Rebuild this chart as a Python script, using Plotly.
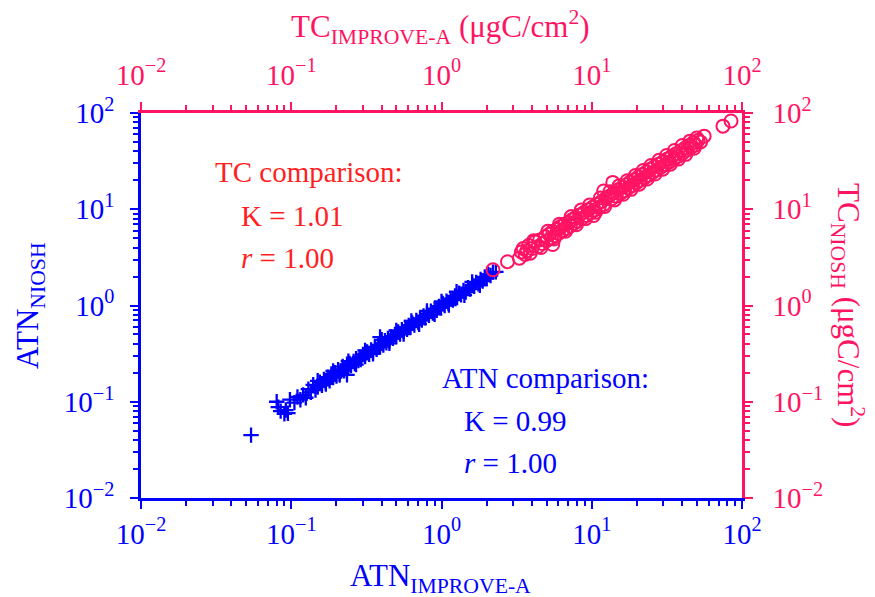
import plotly.graph_objects as go

# ATN comparison (IMPROVE-A vs NIOSH)
atn_improve = [0.054, 0.080, 0.082, 0.085, 0.090, 0.092, 0.095, 0.098, 0.105, 0.110, 0.115, 0.120,
               0.125, 0.130, 0.135, 0.140, 0.145, 0.150, 0.155, 0.160, 0.165, 0.170, 0.175, 0.180,
               0.185, 0.190, 0.195, 0.200, 0.205, 0.210, 0.215, 0.220, 0.225, 0.230, 0.235, 0.235,
               0.240, 0.245, 0.250, 0.260, 0.265, 0.270, 0.280, 0.285, 0.290, 0.300, 0.310, 0.320,
               0.330, 0.340, 0.350, 0.360, 0.370, 0.380, 0.390, 0.390, 0.400, 0.410, 0.420, 0.430,
               0.440, 0.450, 0.460, 0.475, 0.490, 0.500, 0.515, 0.530, 0.545, 0.560, 0.575, 0.590,
               0.605, 0.620, 0.640, 0.660, 0.680, 0.700, 0.720, 0.740, 0.760, 0.780, 0.800, 0.825,
               0.850, 0.875, 0.900, 0.930, 0.960, 0.990, 1.02, 1.05, 1.08, 1.11, 1.15, 1.19, 1.23,
               1.27, 1.31, 1.35, 1.40, 1.45, 1.50, 1.55, 1.60, 1.65, 1.70, 1.76, 1.82, 1.88, 1.94,
               2.00, 2.05, 2.12, 2.20, 2.30,
               0.15, 0.17, 0.19, 0.21, 0.24, 0.27, 0.31, 0.35, 0.40, 0.45, 0.50, 0.56, 0.63, 0.71,
               0.80, 0.90, 1.00, 1.12, 1.26, 1.42, 1.60, 1.80]
atn_niosh = [0.045, 0.100, 0.088, 0.080, 0.075, 0.082, 0.076, 0.105, 0.098, 0.112, 0.105, 0.118,
             0.110, 0.135, 0.125, 0.150, 0.132, 0.142, 0.160, 0.148, 0.170, 0.158, 0.180, 0.165,
             0.195, 0.178, 0.200, 0.185, 0.215, 0.198, 0.208, 0.232, 0.210, 0.225, 0.245, 0.190,
             0.228, 0.250, 0.238, 0.262, 0.250, 0.280, 0.268, 0.290, 0.275, 0.310, 0.295, 0.330,
             0.312, 0.345, 0.330, 0.372, 0.350, 0.390, 0.372, 0.470, 0.405, 0.388, 0.430, 0.410,
             0.455, 0.428, 0.470, 0.455, 0.500, 0.475, 0.530, 0.505, 0.560, 0.535, 0.590, 0.565,
             0.620, 0.595, 0.655, 0.625, 0.700, 0.665, 0.735, 0.705, 0.780, 0.745, 0.820, 0.790,
             0.870, 0.835, 0.920, 0.890, 0.980, 0.945, 1.05, 1.00, 1.11, 1.06, 1.18, 1.14, 1.26,
             1.21, 1.34, 1.29, 1.43, 1.38, 1.53, 1.48, 1.64, 1.58, 1.74, 1.68, 1.86, 1.80, 1.98,
             1.92, 2.10, 2.05, 2.22, 2.24,
             0.165, 0.153, 0.209, 0.189, 0.264, 0.243, 0.341, 0.315, 0.440, 0.405, 0.550, 0.504,
             0.693, 0.639, 0.880, 0.810, 1.10, 1.01, 1.39, 1.28, 1.76, 1.62]

# TC comparison (IMPROVE-A vs NIOSH), ugC/cm2
tc_improve = [2.20, 2.75, 3.3, 3.4, 3.5, 3.6, 3.7, 3.8, 3.9, 4.0, 4.2, 4.4, 4.5, 4.7, 4.9, 5.0,
              5.2, 5.4, 5.5, 5.5, 5.7, 5.9, 6.0, 6.2, 6.4, 6.6, 6.8, 7.0, 7.2, 7.4, 7.6, 7.8, 8.0,
              8.3, 8.6, 8.9, 9.2, 9.5, 9.8, 10.1, 10.3, 10.4, 10.8, 11.2, 11.6, 12.0, 12.0, 12.4,
              13.0, 13.5, 13.8, 14.0, 14.5, 15.0, 15.5, 16.0, 16.5, 17.0, 17.5, 18.0, 18.6, 19.2,
              19.8, 20.4, 21.0, 21.7, 22.4, 23.1, 23.8, 24.5, 25.3, 26.1, 27.0, 27.9, 28.8, 29.8,
              30.8, 31.8, 32.9, 34.0, 35.2, 36.4, 37.6, 38.9, 40.2, 41.6, 43.0, 44.5, 46.0, 47.5,
              49.0, 51.0, 53.0, 56.0, 74.7, 84.5,
              4.1, 4.6, 5.1, 5.6, 6.1, 6.7, 7.3, 7.9, 8.5, 9.1, 9.7, 10.6, 11.4, 12.2, 13.2, 14.2,
              15.2, 16.2, 17.2, 18.3, 19.5, 20.7, 22.0, 23.4, 24.8, 26.4, 28.0, 29.7, 31.5, 33.4,
              35.5, 37.7, 40.0, 42.3, 45.0, 48.0, 50.0]
tc_niosh = [2.35, 2.85, 3.1, 3.6, 3.9, 3.4, 3.7, 4.2, 3.5, 3.9, 4.6, 4.1, 4.8, 4.4, 5.2, 4.7,
            5.5, 5.0, 5.9, 4.3, 5.3, 6.2, 5.6, 6.6, 6.0, 7.0, 6.3, 7.3, 6.7, 7.8, 7.1, 8.2, 7.5,
            8.7, 8.0, 9.3, 8.6, 9.9, 9.2, 10.5, 8.6, 9.8, 11.2, 10.5, 12.0, 11.2, 15.5, 13.0,
            13.6, 12.8, 19.0, 14.8, 13.7, 15.9, 14.6, 17.0, 15.6, 18.0, 16.6, 19.2, 17.6, 20.2,
            18.8, 21.6, 20.0, 23.0, 21.2, 24.4, 22.6, 26.0, 24.0, 27.6, 25.6, 29.4, 27.3, 31.2,
            29.1, 33.2, 31.0, 35.4, 33.2, 37.8, 35.6, 40.2, 38.2, 43.0, 41.0, 46.0, 44.0, 49.5,
            46.5, 52.0, 50.0, 57.5, 73.0, 82.6,
            4.7, 4.0, 5.9, 4.9, 7.0, 5.9, 8.4, 6.9, 9.8, 8.0, 11.1, 9.3, 13.1, 10.7, 15.2, 12.5,
            17.5, 14.3, 19.8, 16.1, 22.4, 18.2, 25.3, 20.6, 28.5, 23.2, 32.2, 26.1, 36.2, 29.4,
            40.8, 33.2, 46.0, 37.2, 51.0, 43.0, 55.0]

tick_vals = [0.01, 0.1, 1, 10, 100]
tick_text = ["10<sup>−2</sup>", "10<sup>−1</sup>", "10<sup>0</sup>", "10<sup>1</sup>", "10<sup>2</sup>"]

BLUE = "#0000FF"
PINK = "#FF1463"
RED = "#FF1F1F"
FONT = "Liberation Serif, Times New Roman, serif"

fig = go.Figure()
fig.add_trace(go.Scatter(x=tc_improve, y=tc_niosh, mode="markers", xaxis="x2", yaxis="y2",
                         marker=dict(symbol="circle-open", size=13, color=PINK, line=dict(width=2, color=PINK)),
                         showlegend=False))
fig.add_trace(go.Scatter(x=atn_improve, y=atn_niosh, mode="markers",
                         marker=dict(symbol="cross-thin-open", size=11, color=BLUE, line=dict(width=2.3, color=BLUE)),
                         showlegend=False))


def ax(color, side, standoff, **kw):
    d = dict(type="log", range=[-2, 2], tickmode="array", tickvals=tick_vals, ticktext=tick_text,
             showgrid=False, zeroline=False, automargin=False, ticklabelstandoff=standoff,
             showline=True, linecolor=color, linewidth=2.5, ticks="outside", ticklen=8, tickwidth=2,
             tickcolor=color, tickfont=dict(family=FONT, size=29, color=color), side=side,
             minor=dict(ticks="outside", ticklen=5, tickwidth=1.5, tickcolor=color, dtick="D1", showgrid=False))
    d.update(kw)
    return d


# the page body adds an 8 px offset; margins are set so the plot area spans x 141-742, y 113-498
fig.update_layout(
    width=875, height=597,
    margin=dict(l=133, r=141, t=105, b=107),
    plot_bgcolor="white", paper_bgcolor="white",
    font=dict(family=FONT),
    xaxis=ax(BLUE, "bottom", 0),
    yaxis=ax(BLUE, "left", 10),
    xaxis2=ax(PINK, "top", 6, overlaying="x", anchor="y"),
    yaxis2=ax(PINK, "right", 14, overlaying="y", anchor="x"),
)


def px(x):
    return (x - 141) / 601


def py(y):
    return (498 - y) / 385


annots = [
    ("TC comparison:", 213, 172, RED),
    ("K = 1.01", 239, 216, RED),
    ("<i>r</i> = 1.00", 239, 258, RED),
    ("ATN comparison:", 440, 378, BLUE),
    ("K = 0.99", 462, 421, BLUE),
    ("<i>r</i> = 1.00", 462, 463, BLUE),
]
for t, x, y, c in annots:
    fig.add_annotation(text=t, x=px(x), y=py(y), xref="paper", yref="paper", xanchor="left", yanchor="middle",
                       showarrow=False, font=dict(family=FONT, size=29, color=c))

titles = [
    ("TC<sub>IMPROVE-A</sub> (μgC/cm<sup>2</sup>)", 440, 27, PINK, 0),
    ("ATN<sub>IMPROVE-A</sub>", 440, 578, BLUE, 0),
    ("ATN<sub>NIOSH</sub>", 30, 306, BLUE, -90),
    ("TC<sub>NIOSH</sub> (μgC/cm<sup>2</sup>)", 848, 305, PINK, 90),
]
for t, x, y, c, a in titles:
    fig.add_annotation(text=t, x=px(x), y=py(y), xref="paper", yref="paper", xanchor="center", yanchor="middle",
                       showarrow=False, textangle=a, font=dict(family=FONT, size=31, color=c))

fig.write_html("out.html")
